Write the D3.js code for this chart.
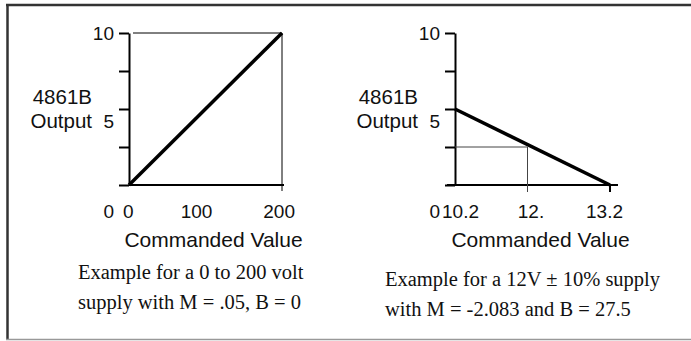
<!DOCTYPE html>
<html>
<head>
<meta charset="utf-8">
<script src="https://cdn.jsdelivr.net/npm/d3@7"></script>
<style>
  body { margin: 0; background: #fff; }
  svg { display: block; }
  .sans { font-family: "Liberation Sans", Arial, Helvetica, sans-serif; fill: #111; }
  .serif { font-family: "Liberation Serif", "Times New Roman", serif; fill: #111; }
</style>
</head>
<body>
<div id="chart"></div>
<script>
// y axis (shared by both panels)
const yTicks = [0, 2.5, 5, 7.5, 10];
const yLabels = [10, 5, 0];
const yTitle = ["4861B", "Output"];
const xTitle = "Commanded Value";

// left panel: 0..200 V supply
const leftXTicks = [0, 100, 200];
const leftXLabels = ["0", "100", "200"];
const leftLine = [[0, 0], [200, 10]];
const leftCaption = ["Example for a 0 to 200 volt", "supply with M = .05, B = 0"];

// right panel: 12V +/- 10% supply
const rightXTicks = [10.2, 12, 13.2];
const rightXLabels = ["10.2", "12.", "13.2"];
const rightLine = [[10.2, 5], [13.2, 0]];
const rightGuide = [12, 2.5];
const rightCaption = ["Example for a 12V \u00b1 10% supply", "with M = -2.083 and B = 27.5"];

const W = 691, H = 341;

const svg = d3.select("#chart")
    .append("svg")
    .attr("width", W)
    .attr("height", H);

svg.append("rect").attr("width", W).attr("height", H).attr("fill", "#fff");

// frame
svg.append("line").attr("x1", 6).attr("x2", W).attr("y1", 5).attr("y2", 5)
    .attr("stroke", "#333").attr("stroke-width", 2.5);
svg.append("line").attr("x1", 7.5).attr("x2", 7.5).attr("y1", 4).attr("y2", 340)
    .attr("stroke", "#333").attr("stroke-width", 2.5);
svg.append("line").attr("x1", 6).attr("x2", W).attr("y1", 339.5).attr("y2", 339.5)
    .attr("stroke", "#999").attr("stroke-width", 1.5);

const y = d3.scaleLinear().domain([0, 10]).range([185, 33]);

function drawPanel(opt) {
    const x = opt.x;
    const g = svg.append("g");
    const x0 = x.range()[0], x1 = x.range()[x.range().length - 1];
    const labelY = 218;

    // y axis with ticks to the left
    g.append("g")
        .attr("transform", `translate(${x0},0)`)
        .call(d3.axisLeft(y).tickValues(yTicks).tickSize(10).tickSizeOuter(0).tickFormat(""))
        .call(a => a.selectAll("path, line").attr("stroke", "#000").attr("stroke-width", 2));

    // x axis line
    g.append("line")
        .attr("x1", x0 - opt.axisLeftExt).attr("x2", x1 + opt.axisRightExt)
        .attr("y1", y(0)).attr("y2", y(0))
        .attr("stroke", "#000").attr("stroke-width", 2);

    // y labels (5 and 0 sit lower than their ticks in the original)
    g.selectAll(".ylab")
        .data(yLabels)
        .join("text")
        .attr("class", "sans")
        .attr("font-size", 19)
        .attr("text-anchor", "end")
        .attr("x", x0 - 15)
        .attr("y", d => d === 0 ? labelY : y(d) + (d === 10 ? 7 : 18.5))
        .text(d => d);

    // y title
    g.selectAll(".ytitle")
        .data(yTitle)
        .join("text")
        .attr("class", "sans")
        .attr("font-size", 20.5)
        .attr("text-anchor", "end")
        .attr("x", x0 - 37)
        .attr("y", (d, i) => y(5) + 18.5 - (yTitle.length - 1 - i) * 23.5)
        .text(d => d);

    // x labels
    const n = opt.ticks.length;
    g.selectAll(".xlab")
        .data(opt.ticks)
        .join("text")
        .attr("class", "sans")
        .attr("font-size", 19)
        .attr("text-anchor", (d, i) => i === 0 ? "start" : i === n - 1 ? "end" : "middle")
        .attr("x", (d, i) => x(d) + (i === 0 ? opt.firstDx : i === n - 1 ? 13 : opt.midDx))
        .attr("y", labelY)
        .text((d, i) => opt.labels[i]);

    // x title
    g.append("text")
        .attr("class", "sans")
        .attr("font-size", 21)
        .attr("text-anchor", "middle")
        .attr("x", (x0 + x1) / 2 + 8)
        .attr("y", 247)
        .text(xTitle);

    // caption
    g.selectAll(".cap")
        .data(opt.caption)
        .join("text")
        .attr("class", "serif")
        .attr("font-size", 20.5)
        .attr("x", opt.capX)
        .attr("y", (d, i) => opt.capY + i * 30)
        .text(d => d);

    return g;
}

// left panel
const xl = d3.scaleLinear().domain([0, 200]).range([129, 282]);
const gl = drawPanel({ x: xl, ticks: leftXTicks, labels: leftXLabels, caption: leftCaption,
    capX: 78, capY: 279, axisLeftExt: 0, axisRightExt: 2, firstDx: -6, midDx: -9 });

// thin frame lines top and right
gl.append("line")
    .attr("x1", xl(0) + 4).attr("x2", xl(200))
    .attr("y1", y(10)).attr("y2", y(10))
    .attr("stroke", "#000").attr("stroke-width", 1);
gl.append("line")
    .attr("x1", xl(200)).attr("x2", xl(200))
    .attr("y1", y(10)).attr("y2", y(0) + 6)
    .attr("stroke", "#000").attr("stroke-width", 1);

gl.append("path")
    .datum(leftLine)
    .attr("d", d3.line().x(d => xl(d[0])).y(d => y(d[1])))
    .attr("fill", "none")
    .attr("stroke", "#000")
    .attr("stroke-width", 3.5);

// right panel (axis drawn schematically, not to scale)
const xr = d3.scaleLinear().domain(rightXTicks).range([455, 527.5, 610]);
const gr = drawPanel({ x: xr, ticks: rightXTicks, labels: rightXLabels, caption: rightCaption,
    capX: 385, capY: 286, axisLeftExt: 8, axisRightExt: 8, firstDx: -13, midDx: 3.5 });

// guide lines at 12 V
gr.append("line")
    .attr("x1", xr(10.2)).attr("x2", xr(rightGuide[0]))
    .attr("y1", y(rightGuide[1])).attr("y2", y(rightGuide[1]))
    .attr("stroke", "#444").attr("stroke-width", 1);
gr.append("line")
    .attr("x1", xr(rightGuide[0])).attr("x2", xr(rightGuide[0]))
    .attr("y1", y(rightGuide[1])).attr("y2", y(0) + 7)
    .attr("stroke", "#444").attr("stroke-width", 1);

// tick at 13.2
gr.append("line")
    .attr("x1", xr(13.2)).attr("x2", xr(13.2))
    .attr("y1", y(0)).attr("y2", y(0) + 7)
    .attr("stroke", "#000").attr("stroke-width", 2);

gr.append("path")
    .datum(rightLine)
    .attr("d", d3.line().x(d => xr(d[0])).y(d => y(d[1])))
    .attr("fill", "none")
    .attr("stroke", "#000")
    .attr("stroke-width", 3.5);
</script>
</body>
</html>
